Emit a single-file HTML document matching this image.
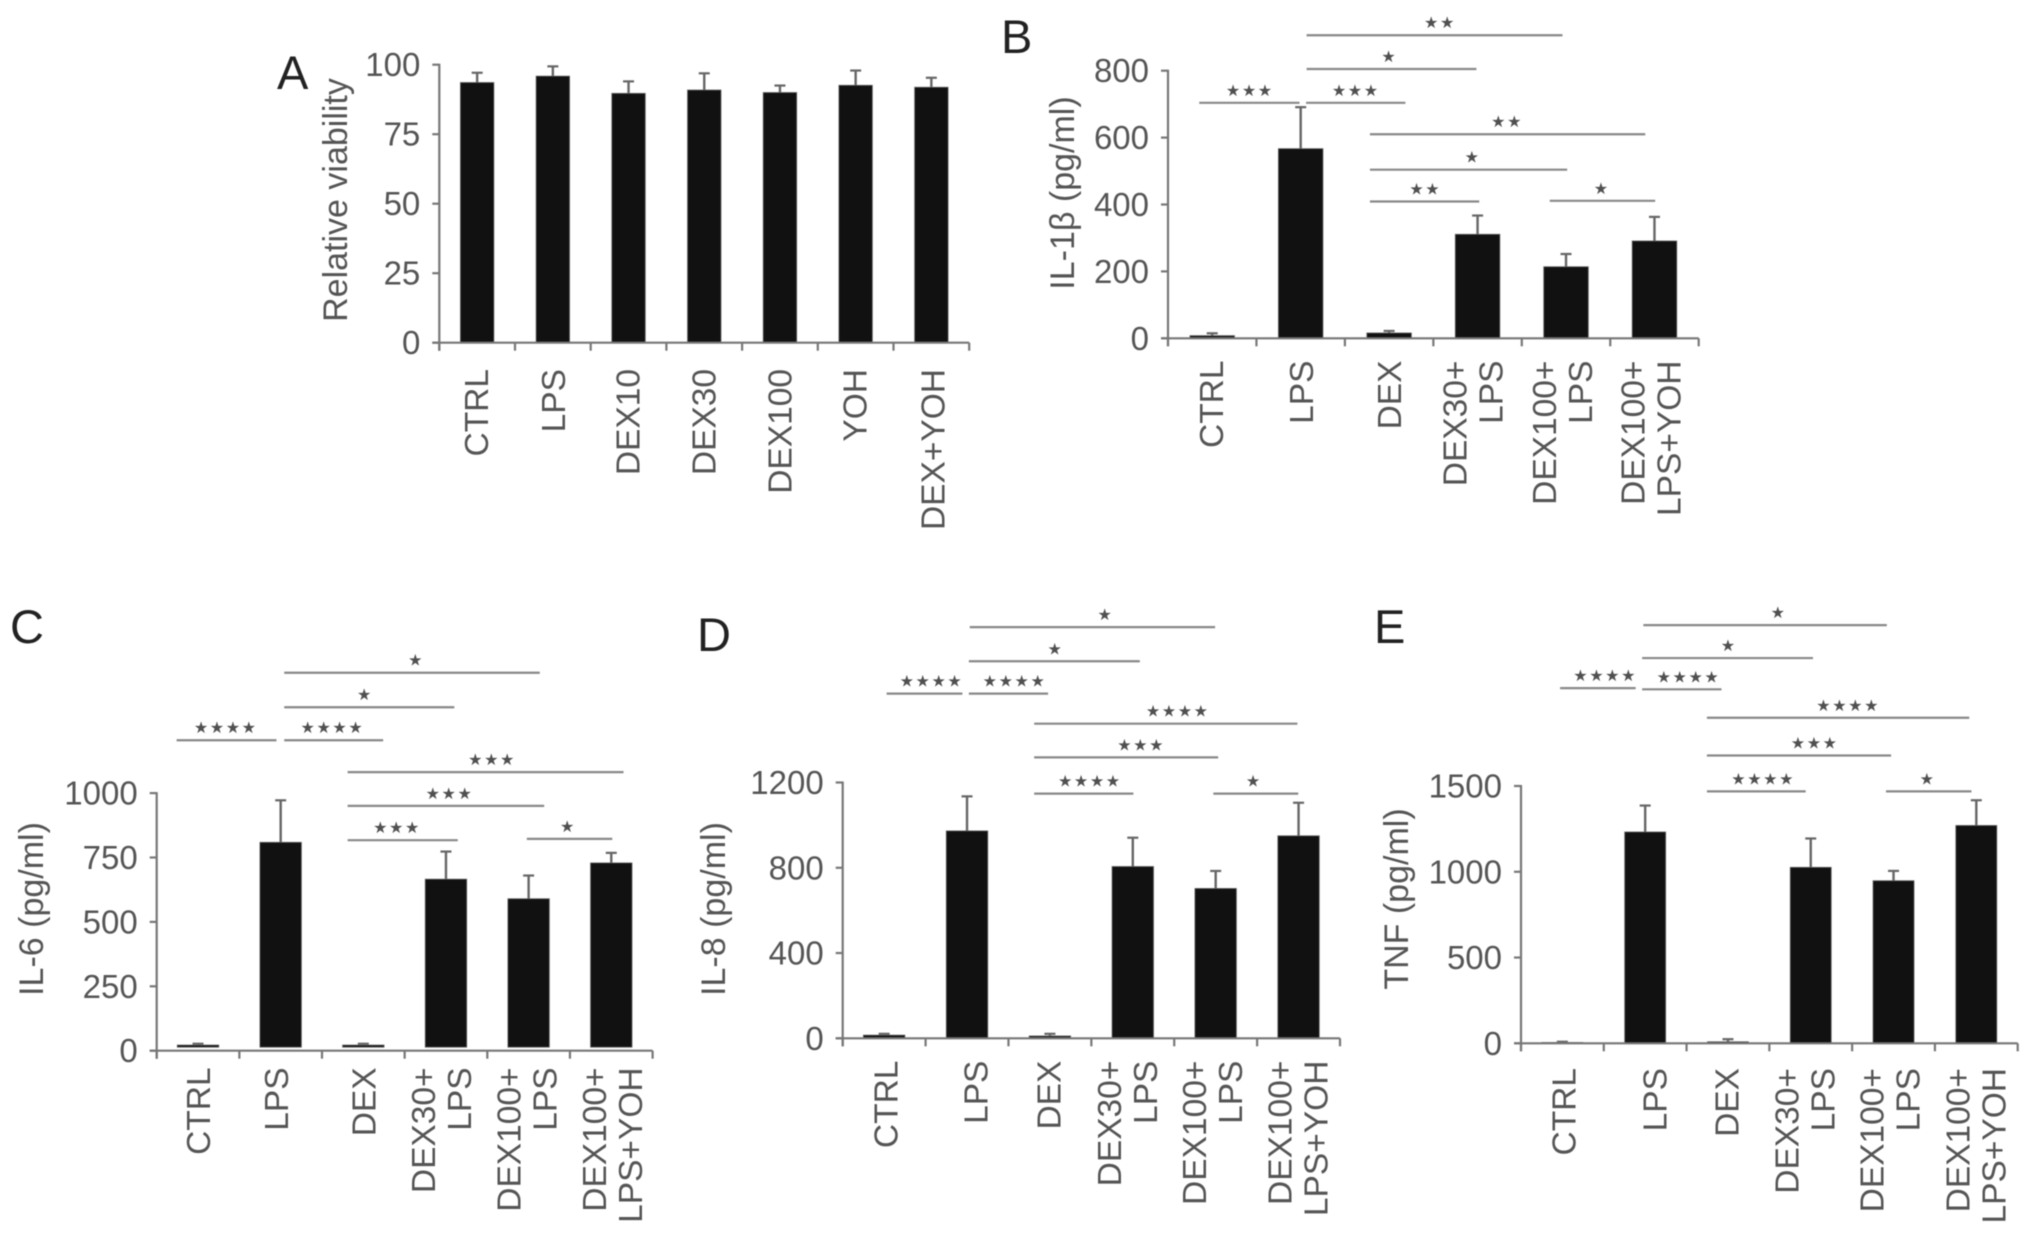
<!DOCTYPE html>
<html lang="en">
<head>
<meta charset="utf-8">
<title>Cytokine bar charts, panels A to E</title>
<style>
  html, body { margin: 0; padding: 0; background: #fff; }
  #figure { display: block; width: 2032px; height: 1234px; filter: blur(0.5px); }
  text { font-family: "Liberation Sans", sans-serif; fill: #555; }
  .stars { font-family: "DejaVu Sans", sans-serif; fill: #505050; }
  .letter { fill: #222; }
</style>
</head>
<body>
<svg id="figure" xmlns="http://www.w3.org/2000/svg" width="2032" height="1234" viewBox="0 0 2032 1234"></svg>
<script>
// ---------- Panel A: relative viability ----------
const panelACategories = ['CTRL', 'LPS', 'DEX10', 'DEX30', 'DEX100', 'YOH', 'DEX+YOH'];
const panelATicks = [0, 25, 50, 75, 100];
const panelAValues = [93.6, 95.9, 89.7, 90.9, 90, 92.6, 91.9];
const panelAErrorTops = [97.1, 99.4, 94, 96.9, 92.5, 97.9, 95.3];
const panelABracketFrom = [];
const panelABracketTo = [];
const panelABracketLevel = [];
const panelABracketStars = [];
const panelABracketStarAt = [];

// ---------- Panel B: IL-1 beta ----------
const panelBCategories = ['CTRL', 'LPS', 'DEX', 'DEX30+|LPS', 'DEX100+|LPS', 'DEX100+|LPS+YOH'];
const panelBTicks = [0, 200, 400, 600, 800];
const panelBValues = [8, 567, 16, 311, 214, 291];
const panelBErrorTops = [15, 691, 22, 367, 252, 363];
const panelBBracketFrom = [1.567, 1.567, 0.353, 1.561, 2.283, 2.283, 2.283, 4.316];
const panelBBracketTo = [4.46, 3.487, 1.487, 2.684, 5.396, 4.513, 3.519, 5.508];
const panelBBracketLevel = [912, 811, 710, 710, 616, 510, 415, 417];
const panelBBracketStars = [2, 1, 3, 3, 2, 1, 2, 1];
const panelBBracketStarAt = [3.075, 2.503, 0.925, 2.123, 3.834, 3.444, 2.909, 4.904];

// ---------- Panel C: IL-6 ----------
const panelCCategories = ['CTRL', 'LPS', 'DEX', 'DEX30+|LPS', 'DEX100+|LPS', 'DEX100+|LPS+YOH'];
const panelCTicks = [0, 250, 500, 750, 1000];
const panelCValues = [22, 809, 22, 666, 590, 729];
const panelCErrorTops = [27, 972, 27, 773, 680, 768];
const panelCBracketFrom = [1.543, 1.543, 0.241, 1.543, 2.31, 2.31, 2.31, 4.478];
const panelCBracketTo = [4.635, 3.601, 1.449, 2.74, 5.648, 4.688, 3.643, 5.512];
const panelCBracketLevel = [1470, 1336, 1208, 1208, 1084, 953, 820, 825];
const panelCBracketStars = [1, 1, 4, 4, 3, 3, 3, 1];
const panelCBracketStarAt = [3.139, 2.52, 0.835, 2.126, 4.058, 3.543, 2.908, 4.976];

// ---------- Panel D: IL-8 ----------
const panelDCategories = ['CTRL', 'LPS', 'DEX', 'DEX30+|LPS', 'DEX100+|LPS', 'DEX100+|LPS+YOH'];
const panelDTicks = [0, 400, 800, 1200];
const panelDValues = [15, 973, 11, 806, 703, 950];
const panelDErrorTops = [21, 1135, 21, 941, 785, 1105];
const panelDBracketFrom = [1.533, 1.522, 0.53, 1.522, 2.31, 2.31, 2.31, 4.472];
const panelDBracketTo = [4.493, 3.585, 1.444, 2.478, 5.486, 4.53, 3.507, 5.496];
const panelDBracketLevel = [1941, 1781, 1629, 1629, 1488, 1330, 1160, 1160];
const panelDBracketStars = [1, 1, 4, 4, 4, 3, 4, 1];
const panelDBracketStarAt = [3.171, 2.567, 1.071, 2.073, 4.042, 3.601, 2.982, 4.961];

// ---------- Panel E: TNF ----------
const panelECategories = ['CTRL', 'LPS', 'DEX', 'DEX30+|LPS', 'DEX100+|LPS', 'DEX100+|LPS+YOH'];
const panelETicks = [0, 500, 1000, 1500];
const panelEValues = [5, 1232, 9, 1026, 948, 1270];
const panelEErrorTops = [9, 1386, 24, 1194, 1005, 1417];
const panelEBracketFrom = [1.478, 1.463, 0.472, 1.463, 2.246, 2.246, 2.246, 4.409];
const panelEBracketTo = [4.419, 3.527, 1.385, 2.422, 5.415, 4.471, 3.439, 5.441];
const panelEBracketLevel = [2450, 2258, 2083, 2076, 1910, 1690, 1481, 1481];
const panelEBracketStars = [1, 1, 4, 4, 4, 3, 4, 1];
const panelEBracketStarAt = [3.112, 2.51, 1.017, 2.023, 3.952, 3.548, 2.925, 4.912];

// ---------- Panel layout (separate from the data) ----------
const panels = [
  { id: 'a', letter: 'A', letterX: 277, letterY: 89, title: 'Relative viability', titleX: 347, titleY: 200,
    left: 439.3, right: 969.2, top: 64.7, bottom: 342.7, barWidth: 33.5, barGap: 0, labelTop: 26.3, ruleDrop: 0,
    labelShift: [-1, 0, -1, -1, -0.5, -1, 1],
    cats: panelACategories, ticks: panelATicks, values: panelAValues, errs: panelAErrorTops,
    from: panelABracketFrom, to: panelABracketTo, level: panelABracketLevel, stars: panelABracketStars, starAt: panelABracketStarAt },
  { id: 'b', letter: 'B', letterX: 1001, letterY: 53, title: 'IL-1\u03B2 (pg/ml)', titleX: 1074, titleY: 193,
    left: 1168, right: 1698.7, top: 70.7, bottom: 338.3, barWidth: 44.6, barGap: 0, labelTop: 22.2, ruleDrop: 2,
    labelShift: [-1.4, 0.5, 0, -5, -4, -4],
    cats: panelBCategories, ticks: panelBTicks, values: panelBValues, errs: panelBErrorTops,
    from: panelBBracketFrom, to: panelBBracketTo, level: panelBBracketLevel, stars: panelBBracketStars, starAt: panelBBracketStarAt },
  { id: 'c', letter: 'C', letterX: 10, letterY: 643, title: 'IL-6 (pg/ml)', titleX: 43, titleY: 909,
    left: 156.7, right: 652.6, top: 793.1, bottom: 1050.7, barWidth: 41.5, barGap: 3.5, labelTop: 16.7, ruleDrop: 0.7,
    labelShift: [0, -4.8, 0, -5.2, -2.2, 0.9],
    cats: panelCCategories, ticks: panelCTicks, values: panelCValues, errs: panelCErrorTops,
    from: panelCBracketFrom, to: panelCBracketTo, level: panelCBracketLevel, stars: panelCBracketStars, starAt: panelCBracketStarAt },
  { id: 'd', letter: 'D', letterX: 697, letterY: 651, title: 'IL-8 (pg/ml)', titleX: 725, titleY: 909,
    left: 842.7, right: 1340, top: 782.5, bottom: 1038.3, barWidth: 41.5, barGap: 0, labelTop: 22.3, ruleDrop: 2.6,
    labelShift: [1.3, 8.7, -1.3, -6, -3.5, -1],
    cats: panelDCategories, ticks: panelDTicks, values: panelDValues, errs: panelDErrorTops,
    from: panelDBracketFrom, to: panelDBracketTo, level: panelDBracketLevel, stars: panelDBracketStars, starAt: panelDBracketStarAt },
  { id: 'e', letter: 'E', letterX: 1374, letterY: 643, title: 'TNF (pg/ml)', titleX: 1408, titleY: 899,
    left: 1521, right: 2017.7, top: 786, bottom: 1043.3, barWidth: 41, barGap: 0, labelTop: 24.7, ruleDrop: 2.1,
    labelShift: [1.3, 9.5, -1.7, -6, -3.9, -1],
    cats: panelECategories, ticks: panelETicks, values: panelEValues, errs: panelEErrorTops,
    from: panelEBracketFrom, to: panelEBracketTo, level: panelEBracketLevel, stars: panelEBracketStars, starAt: panelEBracketStarAt }
];

const SVG_NS = 'http://www.w3.org/2000/svg';
const svg = document.getElementById('figure');

function make(parent, tag, attrs, content) {
  const el = document.createElementNS(SVG_NS, tag);
  for (const key in attrs) { el.setAttribute(key, attrs[key]); }
  if (content !== undefined) { el.textContent = content; }
  parent.appendChild(el);
  return el;
}

function drawLine(parent, x1, y1, x2, y2, width, colour) {
  return make(parent, 'line', { x1: x1, y1: y1, x2: x2, y2: y2, stroke: colour, 'stroke-width': width });
}

function slug(text) {
  return text.toLowerCase().replace(/[^a-z0-9]+/g, '-').replace(/^-|-$/g, '');
}

function drawPanel(p) {
  const group = make(svg, 'g', {});
  
  

  const yMax = p.ticks[p.ticks.length - 1];
  const step = (p.right - p.left) / p.cats.length;
  const xAxisPos = u => p.left + u * step;
  const yAxisPos = v => p.bottom - (v / yMax) * (p.bottom - p.top);

  const letter = make(group, 'text', { x: p.letterX, y: p.letterY, class: 'letter', 'font-size': 47 }, p.letter);
  
  

  const title = make(group, 'text', {
    x: p.titleX, y: p.titleY, 'font-size': 34, 'text-anchor': 'middle',
    transform: 'rotate(-90 ' + p.titleX + ' ' + p.titleY + ')'
  }, p.title);
  
  

  // bars and error bars
  p.values.forEach((value, i) => {
    const cx = xAxisPos(i + 0.5);
    const errTop = yAxisPos(p.errs[i]);
    const barTop = yAxisPos(value);
    const name = slug(p.cats[i]);

    const stem = drawLine(group, cx, barTop, cx, errTop, 2.4, '#666');
    
    

    const cap = drawLine(group, cx - 5.5, errTop, cx + 5.5, errTop, 2.2, '#666');
    
    

    const bar = make(group, 'rect', {
      x: cx - p.barWidth / 2, y: barTop, width: p.barWidth,
      height: Math.max(0, p.bottom - p.barGap - barTop), fill: '#111', stroke: '#666', 'stroke-width': 0.8
    });
    
    
  });

  // y axis
  const yAxis = drawLine(group, p.left, p.top - 1, p.left, p.bottom + 8, 2.2, '#777');
  
  

  p.ticks.forEach(t => {
    const y = yAxisPos(t);
    const mark = drawLine(group, p.left - 7, y, p.left, y, 2.2, '#777');
    
    

    const label = make(group, 'text', {
      x: p.left - 19, y: y + 11.5, 'font-size': 33, 'text-anchor': 'end'
    }, String(t));
    
    
  });

  // x axis
  const xAxis = drawLine(group, p.left - 7, p.bottom, p.right, p.bottom, 2.2, '#777');
  
  

  for (let i = 0; i <= p.cats.length; i++) {
    const mark = drawLine(group, xAxisPos(i), p.bottom, xAxisPos(i), p.bottom + 8, 2.2, '#777');
    
    
  }

  p.cats.forEach((cat, i) => {
    const lines = cat.split('|');
    const cx = xAxisPos(i + 0.5) + p.labelShift[i];
    lines.forEach((line, n) => {
      const bx = cx + (n - (lines.length - 1) / 2) * 36 + 12;
      const by = p.bottom + p.labelTop;
      const label = make(group, 'text', {
        x: bx, y: by, 'font-size': 33.5, 'text-anchor': 'end',
        transform: 'rotate(-90 ' + bx + ' ' + by + ')'
      }, line);
      
      
    });
  });

  // significance brackets
  p.from.forEach((start, i) => {
    const y = yAxisPos(p.level[i]) + p.ruleDrop;
    const rule = drawLine(group, xAxisPos(start), y, xAxisPos(p.to[i]), y, 2.2, '#888');
    
    

    const stars = make(group, 'text', {
      x: xAxisPos(p.starAt[i]), y: y - 12.5, class: 'stars', 'font-size': 16,
      'letter-spacing': 1.6, 'text-anchor': 'middle', 'dominant-baseline': 'central'
    }, '\u2605'.repeat(p.stars[i]));
    
    
  });
}

panels.forEach(drawPanel);
</script>
</body>
</html>
